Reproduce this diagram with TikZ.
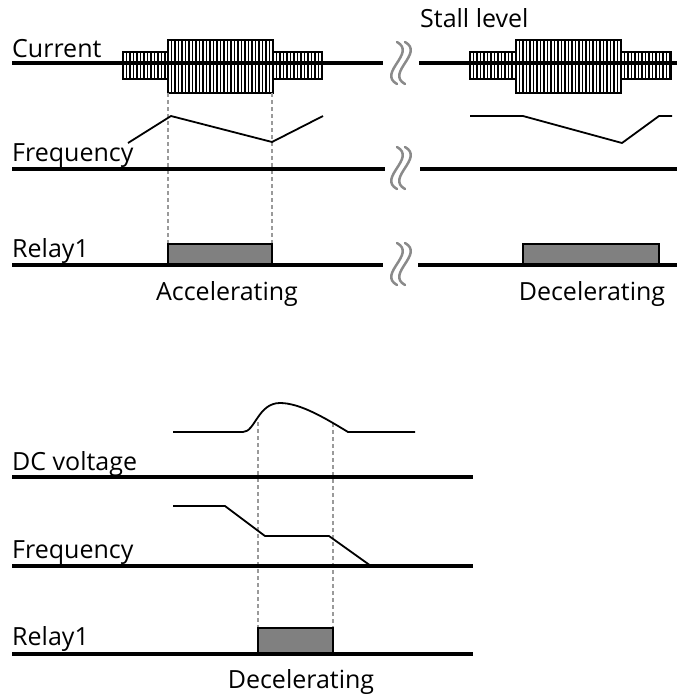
\documentclass[tikz,border=0pt]{standalone}
\usepackage{fontspec}
\setmainfont{Open Sans}
\usepackage{tikz}
\usetikzlibrary{positioning}
\usepackage{xcolor}
\definecolor{relaygray}{HTML}{808080}
\definecolor{breakgray}{HTML}{8A8A8A}
\definecolor{guidegray}{HTML}{9A9A9A}
\newcommand{\labelfont}{\fontsize{25}{29}\selectfont}
% striped block of the current trace
\newcommand{\hatchrect}[4]{%
  \pgfmathsetmacro{\hxa}{#1+3.5}\pgfmathsetmacro{\hxb}{#1+7}%
  \foreach \hx in {\hxa,\hxb,...,#3}{\draw[hatch] (\hx,#2) -- (\hx,#4);}
  \draw[hatchbox] (#1,#2) rectangle (#3,#4);}
\tikzset{
  axis/.style={line width=3.2pt},
  signal/.style={line width=1.8pt, line join=round},
  guide/.style={guidegray, line width=1.1pt, dash pattern=on 4pt off 3pt},
  relaybox/.style={draw=black, line width=1.7pt, fill=relaygray},
  hatchbox/.style={draw=black, line width=1.5pt},
  hatch/.style={line width=1.15pt},
  label/.style={anchor=base west, inner sep=0pt, font=\labelfont},
  caption/.style={anchor=base, inner sep=0pt, font=\labelfont},
  breakmark/.pic={
    \draw[breakgray, line width=2.5pt, line cap=round] (-4,-21) .. controls (16,-10) and (-24,10) .. (-4,21);
    \draw[breakgray, line width=2.5pt, line cap=round] (4,-21) .. controls (24,-10) and (-16,10) .. (4,21);
  },
}

\begin{document}
\begin{tikzpicture}[x=1pt, y=-1pt]
\useasboundingbox (0,0) rectangle (677,697);

% labels
\node[label] (current) at (12,57) {Current};
\node[label] (stall) at (420,27) {Stall level};
\node[label] (freqA) at (12,161) {Frequency};
\node[label] (relayA) at (12,257) {Relay1};
\node[caption] (accel) at (227,300) {Accelerating};
\node[caption] (decelA) at (592,300) {Decelerating};
\node[label] (dcv) at (12,470) {DC voltage};
\node[label] (freqB) at (12,558) {Frequency};
\node[label] (relayB) at (12,645) {Relay1};
\node[caption] (decelB) at (301,688) {Decelerating};

% current bursts
\hatchrect{123}{52}{168}{79}
\hatchrect{168}{40}{273}{93}
\hatchrect{273}{52}{322}{79}
\hatchrect{470}{52}{516}{79}
\hatchrect{516}{40}{621}{93}
\hatchrect{621}{52}{671}{79}

% guides
\draw[guide] (168,93) -- (168,244);
\draw[guide] (272,93) -- (272,244);
\draw[guide] (258,422) -- (258,628);
\draw[guide] (333,423) -- (333,628);

% relay pulses
\draw[relaybox] (168,265) rectangle (272,244);
\draw[relaybox] (523,265) rectangle (659,244);
\draw[relaybox] (258,654) rectangle (333,628);

% axes
\draw[axis] (12,63) -- (383,63);
\draw[axis] (419,63) -- (677,63);
\draw[axis] (12,169) -- (385,169);
\draw[axis] (420,169) -- (677,169);
\draw[axis] (12,265) -- (383,265);
\draw[axis] (418,265) -- (677,265);
\draw[axis] (12,477) -- (473,477);
\draw[axis] (12,566) -- (473,566);
\draw[axis] (12,654) -- (473,654);

\pic at (401,63) {breakmark};
\pic at (401,168) {breakmark};
\pic at (401,264) {breakmark};

% signals
\draw[signal] (128,143) -- (171,116) -- (272,142) -- (323,116);
\draw[signal] (470,116) -- (523,116) -- (622,143) -- (659,116) -- (672,116);
\draw[signal] (173,432) -- (243,432) .. controls (255,432) and (258,403) .. (280,403)
  .. controls (300,403) and (325,418) .. (348,432) -- (415,432);
\draw[signal] (173,506) -- (225,506) -- (265,536) -- (329,536) -- (371,566);
\end{tikzpicture}
\end{document}
